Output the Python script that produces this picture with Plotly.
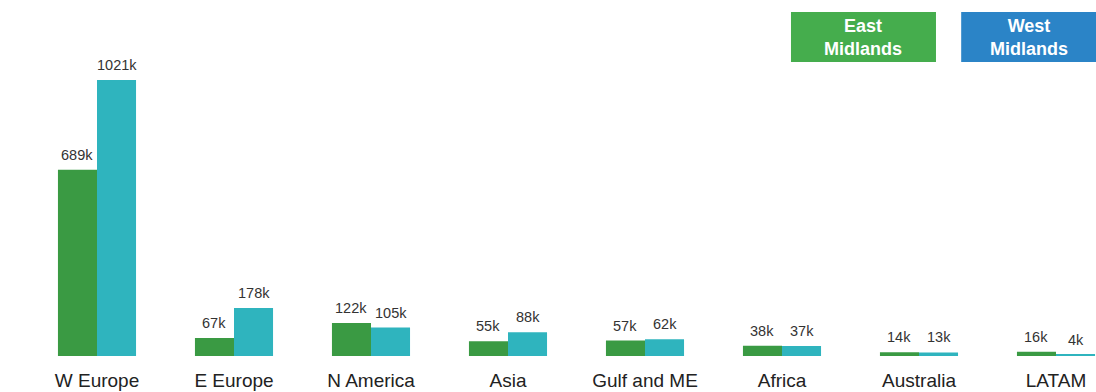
import plotly.graph_objects as go

categories = ["W Europe", "E Europe", "N America", "Asia", "Gulf and ME", "Africa", "Australia", "LATAM"]
east_midlands = [689, 67, 122, 55, 57, 38, 14, 16]
west_midlands = [1021, 178, 105, 88, 62, 37, 13, 4]
legend_names = ["East<br>Midlands", "West<br>Midlands"]

GREEN = "#3a9a43"
CYAN = "#2fb4be"
LEG_GREEN = "#45ad4d"
LEG_BLUE = "#2b84c7"
FONT = "Liberation Sans, Arial, sans-serif"

W, H = 1096, 392
X_RANGE = [-0.708, 7.292]
BARGAP = 0.43
bar_px = W / (X_RANGE[1] - X_RANGE[0]) * (1 - BARGAP) / 2

fig = go.Figure()
fig.add_trace(go.Bar(x=categories, y=east_midlands, name="East Midlands",
                     marker=dict(color=GREEN, line=dict(width=0))))
fig.add_trace(go.Bar(x=categories, y=west_midlands, name="West Midlands",
                     marker=dict(color=CYAN, line=dict(width=0))))

for vals, sign in ((east_midlands, -1), (west_midlands, 1)):
    for c, v in zip(categories, vals):
        fig.add_annotation(x=c, y=v, text=f"{v}k", showarrow=False, xanchor="center", yanchor="bottom",
                           xshift=sign * bar_px / 2, yshift=5,
                           font=dict(size=14.5, color="#333333", family=FONT))

# legend boxes
boxes = [(0.7217, 0.854, LEG_GREEN, legend_names[0]), (0.877, 1.0, LEG_BLUE, legend_names[1])]
for x0, x1, col, txt in boxes:
    fig.add_shape(type="rect", xref="paper", yref="paper", x0=x0, x1=x1, y0=0.826, y1=0.966,
                  fillcolor=col, line=dict(width=0), layer="above")
    fig.add_annotation(xref="paper", yref="paper", x=(x0 + x1) / 2, y=0.896, text="<b>" + txt + "</b>",
                       showarrow=False, font=dict(size=18, color="white", family=FONT),
                       xanchor="center", yanchor="middle")

fig.update_layout(
    width=W, height=H,
    margin=dict(l=0, r=0, t=0, b=36),
    paper_bgcolor="white", plot_bgcolor="white",
    barmode="group", bargap=BARGAP, bargroupgap=0,
    showlegend=False,
    xaxis=dict(range=X_RANGE, showgrid=False, showline=False, zeroline=False,
               ticks="", ticklabelstandoff=11,
               tickfont=dict(size=19, color="#222222", family=FONT)),
    yaxis=dict(range=[0, 1317], visible=False, showgrid=False, zeroline=False),
)

fig.write_html("out.html")
